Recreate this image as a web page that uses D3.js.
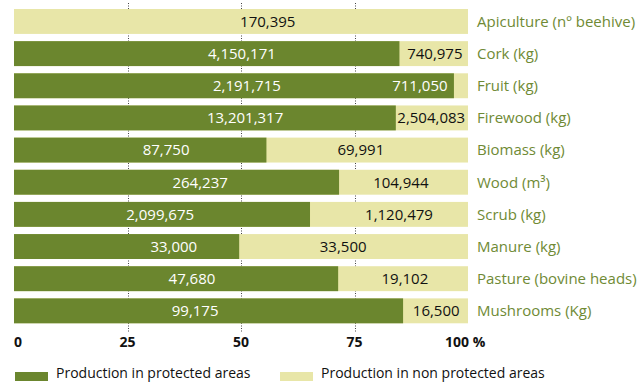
<!DOCTYPE html>
<html><head><meta charset="utf-8">
<script src="https://cdn.jsdelivr.net/npm/d3@7"></script>
<style>
html,body{margin:0;padding:0;background:#fff;}
svg{display:block;font-family:"Open Sans",sans-serif;}
</style></head>
<body><svg id="c" width="644" height="384"></svg>
<script>
// ---- data ----
const categories = ["Apiculture (nº beehive)","Cork (kg)","Fruit (kg)","Firewood (kg)","Biomass (kg)","Wood (m³)","Scrub (kg)","Manure (kg)","Pasture (bovine heads)","Mushrooms (Kg)"];
const protectedLabels = [null,"4,150,171","2,191,715","13,201,317","87,750","264,237","2,099,675","33,000","47,680","99,175"];
const nonProtectedLabels = ["170,395","740,975","711,050","2,504,083","69,991","104,944","1,120,479","33,500","19,102","16,500"];
// share (%) of production in protected areas, as drawn
const protectedShare = [0,84.9,96.9,84.1,55.6,71.6,65.2,49.6,71.4,85.7];
// label anchor positions (in % units)
const protectedLabelAt = [null,50.2,51.3,50.9,33.5,41.0,32.2,35.2,39.2,39.9];
const nonProtectedLabelAt = [55.9,92.7,89.4,91.9,76.4,85.2,84.8,72.5,86.1,93.0];
const ticks = [0,25,50,75,100];
const legendLabels = ["Production in protected areas","Production in non protected areas"];

// ---- chart ----
const GREEN = "#6b862e", YELLOW = "#e8e6a8", CAT = "#6f8a35";
const svg = d3.select("#c");
const x = d3.scaleLinear().domain([0,100]).range([14,468]);
const y = d3.scaleBand().domain(categories).range([9,323.3]).paddingInner(0.225).paddingOuter(0);

const rowsData = categories.map((c,i)=>({
  cat:c, share:protectedShare[i], pLab:protectedLabels[i], nLab:nonProtectedLabels[i],
  pAt:protectedLabelAt[i], nAt:nonProtectedLabelAt[i]
}));

// dotted grid lines
svg.append("g").selectAll("line").data(ticks.filter(t=>t>0&&t<100)).join("line")
  .attr("x1",d=>Math.round(x(d))+0.5).attr("x2",d=>Math.round(x(d))+0.5)
  .attr("y1",3).attr("y2",332)
  .attr("stroke","#444").attr("stroke-width",1).attr("stroke-dasharray","1,1.5");

const rows = svg.append("g").selectAll("g").data(rowsData).join("g")
  .attr("transform",d=>`translate(0,${y(d.cat)})`);

rows.append("rect").attr("x",x(0)).attr("y",0)
  .attr("width",x(100)-x(0)).attr("height",y.bandwidth()).attr("fill",YELLOW);
rows.append("rect").attr("x",x(0)).attr("y",0)
  .attr("width",d=>x(d.share)-x(0)).attr("height",y.bandwidth()).attr("fill",GREEN);

const cy = y.bandwidth()/2;
rows.filter(d=>d.pLab).append("text")
  .attr("x",d=>x(d.pAt)).attr("y",cy).attr("dy","0.36em")
  .attr("text-anchor","middle").attr("font-size",15).attr("font-weight",500).attr("fill","#fff")
  .text(d=>d.pLab);
rows.append("text")
  .attr("x",d=>x(d.nAt)).attr("y",cy).attr("dy","0.36em")
  .attr("text-anchor","middle").attr("font-size",15).attr("font-weight",500)
  .attr("fill",d=> d.nAt < d.share ? "#fff" : "#111")
  .text(d=>d.nLab);
rows.append("text")
  .attr("x",477).attr("y",cy).attr("dy","0.36em")
  .attr("font-size",15).attr("font-weight",500).attr("fill",CAT)
  .text(d=>d.cat);

// x tick labels
svg.append("g").selectAll("text").data(ticks).join("text")
  .attr("x",d=> d===0 ? x(d) : d===100 ? x(d)-23 : x(d))
  .attr("y",347)
  .attr("text-anchor",d=> d===0||d===100 ? "start" : "middle")
  .attr("font-size",14).attr("font-weight","bold").attr("fill","#111")
  .text(d=> d===100 ? "100 %" : d);

// legend
const lg = svg.append("g").selectAll("g").data(legendLabels).join("g")
  .attr("transform",(d,i)=>`translate(${i===0?15:280},372)`);
lg.append("rect").attr("width",33).attr("height",9).attr("fill",(d,i)=>i===0?GREEN:YELLOW);
lg.append("text").attr("x",41).attr("y",6)
  .attr("font-size",14).attr("fill","#111").text(d=>d);
</script>
</body></html>
